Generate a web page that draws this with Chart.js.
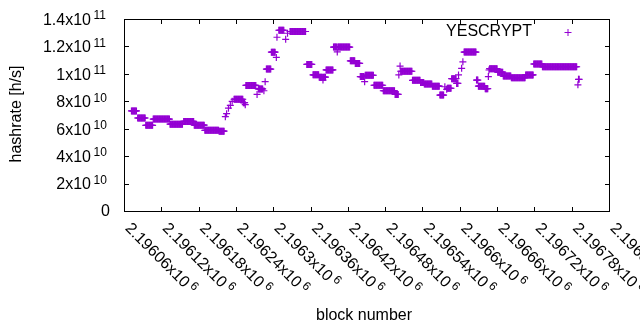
<!DOCTYPE html>
<html>
<head>
<meta charset="utf-8">
<script src="https://cdn.jsdelivr.net/npm/chart.js@4/dist/chart.umd.min.js"></script>
<style>
  html, body { margin: 0; padding: 0; background: #fff; }
  canvas { display: block; }
</style>
</head>
<body>
<canvas id="hashChart" width="640" height="330"></canvas>
<script>
// runs of equal hashrate per block (first block, last block, GH/s)
const runFirst = [
  2196072, 2196082, 2196095, 2196107, 2196134, 2196156, 2196173, 2196190, 2196213, 2196223,
  2196225, 2196228, 2196231, 2196234, 2196237, 2196252, 2196255, 2196256, 2196274, 2196276,
  2196285, 2196287, 2196289, 2196297, 2196305, 2196306, 2196309, 2196320, 2196323, 2196327,
  2196354, 2196364, 2196374, 2196380, 2196381, 2196385, 2196397, 2196403, 2196404, 2196424,
  2196432, 2196440, 2196447, 2196448, 2196462, 2196477, 2196496, 2196502, 2196504, 2196505,
  2196524, 2196537, 2196543, 2196556, 2196568, 2196576, 2196579, 2196580, 2196587, 2196595,
  2196598, 2196603, 2196605, 2196607, 2196627, 2196630, 2196641, 2196646, 2196647, 2196648,
  2196661, 2196670, 2196683, 2196706, 2196719, 2196733, 2196790, 2196791
];
const runLast = [
  2196080, 2196094, 2196106, 2196133, 2196154, 2196172, 2196189, 2196212, 2196221, 2196223,
  2196225, 2196228, 2196231, 2196234, 2196251, 2196254, 2196255, 2196272, 2196274, 2196283,
  2196285, 2196287, 2196296, 2196303, 2196305, 2196306, 2196317, 2196320, 2196323, 2196352,
  2196362, 2196373, 2196379, 2196380, 2196384, 2196396, 2196402, 2196403, 2196423, 2196431,
  2196439, 2196446, 2196447, 2196461, 2196476, 2196495, 2196501, 2196502, 2196504, 2196523,
  2196536, 2196542, 2196555, 2196567, 2196574, 2196576, 2196579, 2196586, 2196594, 2196597,
  2196598, 2196603, 2196605, 2196626, 2196629, 2196640, 2196645, 2196646, 2196647, 2196660,
  2196669, 2196682, 2196705, 2196718, 2196732, 2196788, 2196790, 2196792
];
const runRateGH = [
  73.0, 67.8, 62.5, 67.0, 63.3, 65.3, 62.6, 58.8, 58.2, 68.8,
  71.0, 75.0, 77.0, 80.0, 81.5, 79.0, 77.5, 91.6, 85.0, 89.0,
  87.7, 94.3, 103.5, 115.8, 112.0, 126.7, 131.8, 125.2, 129.6, 130.9,
  106.9, 99.3, 97.6, 95.5, 97.6, 102.9, 119.5, 116.0, 119.5, 109.5,
  107.6, 98.0, 94.3, 99.0, 91.7, 87.7, 85.0, 99.2, 105.7, 101.9,
  95.3, 93.7, 92.6, 91.0, 84.5, 90.6, 88.7, 89.5, 96.5, 93.0,
  99.2, 104.0, 108.8, 115.9, 95.5, 91.0, 89.2, 98.0, 102.8, 103.8,
  101.2, 98.4, 97.2, 99.2, 107.2, 105.2, 92.0, 96.0
];

const xTickBlocks = [2196060, 2196120, 2196180, 2196240, 2196300, 2196360, 2196420,
  2196480, 2196540, 2196600, 2196660, 2196720, 2196780, 2196840];
const xTickMantissa = ['2.19606', '2.19612', '2.19618', '2.19624', '2.1963', '2.19636', '2.19642',
  '2.19648', '2.19654', '2.1966', '2.19666', '2.19672', '2.19678', '2.19684'];
const yTickValues = [0, 2e10, 4e10, 6e10, 8e10, 1e11, 1.2e11, 1.4e11];
const yTickMantissa = ['0', '2', '4', '6', '8', '1', '1.2', '1.4'];
const yTickExponent = ['', '10', '10', '10', '10', '11', '11', '11'];

const PURPLE = '#9400d3';
const FONT = '"Liberation Sans", Arial, sans-serif';

const points = [];
runFirst.forEach((first, i) => {
  for (let b = first; b <= runLast[i]; b++) {
    points.push({ x: b, y: runRateGH[i] * 1e9 });
  }
});

// gnuplot-like frame, ticks, labels and key
const gnuplotFrame = {
  id: 'gnuplotFrame',
  afterDatasetsDraw(chart) {
    const ctx = chart.ctx;
    const xs = chart.scales.x;
    const ys = chart.scales.y;
    const a = chart.chartArea;
    const L = Math.round(a.left), R = Math.round(a.right);
    const T = Math.round(a.top), B = Math.round(a.bottom);

    ctx.save();
    ctx.strokeStyle = '#000';
    ctx.lineWidth = 1;
    ctx.strokeRect(L + 0.5, T + 0.5, R - L, B - T);

    ctx.beginPath();
    yTickValues.forEach(v => {
      const y = Math.round(ys.getPixelForValue(v)) + 0.5;
      ctx.moveTo(L, y); ctx.lineTo(L + 5, y);
      ctx.moveTo(R + 1, y); ctx.lineTo(R - 4, y);
    });
    xTickBlocks.forEach(b => {
      const x = Math.round(xs.getPixelForValue(b)) + 0.5;
      ctx.moveTo(x, B + 1); ctx.lineTo(x, B - 4);
      ctx.moveTo(x, T); ctx.lineTo(x, T + 5);
    });
    ctx.stroke();

    ctx.fillStyle = '#000';
    // y tick labels
    yTickValues.forEach((v, i) => {
      const y = ys.getPixelForValue(v);
      ctx.textBaseline = 'middle';
      ctx.font = '16px ' + FONT;
      ctx.textAlign = 'right';
      if (!yTickExponent[i]) {
        ctx.fillText(yTickMantissa[i], 110, y + 1);
        return;
      }
      ctx.fillText(yTickMantissa[i] + 'x10', 91, y + 1.5);
      ctx.font = '12px ' + FONT;
      ctx.textAlign = 'left';
      ctx.fillText(yTickExponent[i], 93.5, y - 3);
    });

    // x tick labels, rotated -45
    xTickBlocks.forEach((b, i) => {
      const x = xs.getPixelForValue(b);
      ctx.save();
      ctx.translate(x + 3.5, B + 15);
      ctx.rotate(Math.PI / 4);
      ctx.textBaseline = 'middle';
      ctx.textAlign = 'left';
      ctx.font = '16px ' + FONT;
      const label = xTickMantissa[i] + 'x10';
      ctx.fillText(label, 0, 0);
      const w = ctx.measureText(label).width;
      ctx.font = '12px ' + FONT;
      ctx.fillText('6', w + 3, -4.5);
      ctx.restore();
    });

    // axis titles
    ctx.font = '16px ' + FONT;
    ctx.textAlign = 'center';
    ctx.textBaseline = 'middle';
    ctx.fillText('block number', 364, 316);
    ctx.save();
    ctx.translate(17, 114);
    ctx.rotate(-Math.PI / 2);
    ctx.fillText('hashrate [h/s]', 0, 0);
    ctx.restore();

    // key
    ctx.textAlign = 'right';
    ctx.fillText('YESCRYPT', 532, 32);
    ctx.strokeStyle = PURPLE;
    ctx.beginPath();
    ctx.moveTo(564.5, 32.5); ctx.lineTo(571.5, 32.5);
    ctx.moveTo(568, 29); ctx.lineTo(568, 36);
    ctx.stroke();
    ctx.restore();
  }
};

new Chart(document.getElementById('hashChart'), {
  type: 'scatter',
  data: {
    datasets: [{
      label: 'YESCRYPT',
      data: points,
      pointStyle: 'cross',
      pointRadius: 3.5,
      pointHoverRadius: 3.5,
      borderColor: PURPLE,
      backgroundColor: PURPLE,
      borderWidth: 1.2,
      showLine: false
    }]
  },
  options: {
    responsive: false,
    animation: false,
    devicePixelRatio: 1,
    layout: { padding: { left: 124, right: 31, top: 19, bottom: 119 } },
    plugins: { legend: { display: false }, tooltip: { enabled: false } },
    events: [],
    scales: {
      x: { type: 'linear', display: false, min: 2196060, max: 2196840 },
      y: { type: 'linear', display: false, min: 0, max: 1.4e11 }
    }
  },
  plugins: [gnuplotFrame]
});
</script>
</body>
</html>
